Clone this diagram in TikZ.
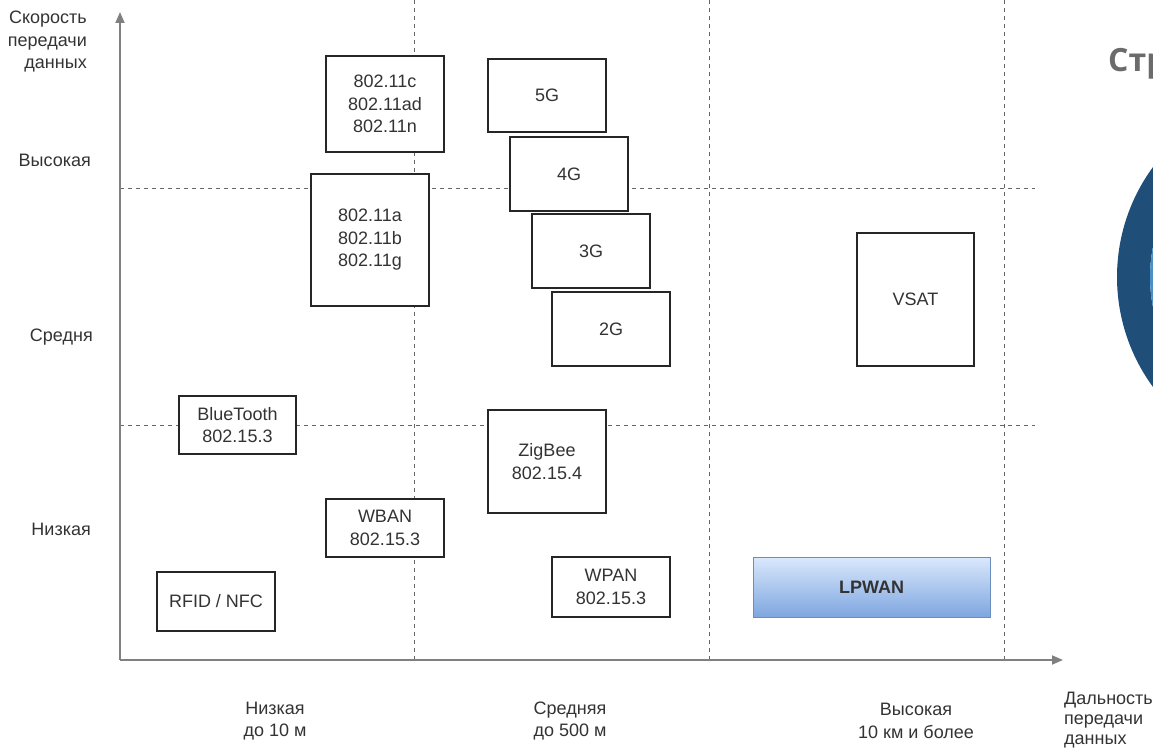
\documentclass[tikz,border=0pt]{standalone}
\usepackage{fontspec}
\setmainfont{Liberation Sans}
\newfontfamily\headfont{Open Sans}
\usetikzlibrary{arrows.meta}
\definecolor{txtgray}{HTML}{333333}
\definecolor{ringblue}{HTML}{1F4E79}
\definecolor{ringlight}{HTML}{4A90C8}
\definecolor{lpwantop}{HTML}{DAE8FC}
\definecolor{lpwanbot}{HTML}{7EA6E0}
\definecolor{lpwanline}{HTML}{6C8EBF}
\newcommand\techfont{\fontsize{18}{22.5}\selectfont}
\tikzset{
    tech/.style={draw=black!85, line width=1.2pt, fill=white, align=center,
        inner sep=0pt, text=txtgray, font=\techfont},
    gridline/.style={draw=black!60, line width=0.9pt, dash pattern=on 4pt off 4pt},
    axis/.style={draw=black!50, line width=1.8pt, -{Triangle[length=11pt,width=9pt]}},
    lbl/.style={text=txtgray, font=\techfont, inner sep=0pt}
}
\begin{document}
\begin{tikzpicture}[x=1pt, y=-1pt]
\useasboundingbox (0,0) rectangle (1153,749);
\clip (0,0) rectangle (1153,749);

% Slide fragment on the right
\draw[ringblue, line width=33pt] (1303,277) circle[radius=169.5pt];
\draw[ringlight, line width=3pt] (1303,277) circle[radius=151.5pt];
\node[anchor=base west, inner sep=0pt, text=black!58, font=\headfont\bfseries\fontsize{32}{36}\selectfont] (title) at (1108,72) {Стр};

% Grid
\draw[gridline] (414,0) -- (414,660);
\draw[gridline] (709,0) -- (709,660);
\draw[gridline] (1004,0) -- (1004,660);
\draw[gridline] (120,188) -- (1035,188);
\draw[gridline] (120,425) -- (1035,425);

% Technologies
\node[tech, minimum width=118pt, minimum height=96pt] (wifiN) at (385,104) {802.11c\\802.11ad\\802.11n};
\node[tech, minimum width=118pt, minimum height=73pt] (g5) at (547,95.5) {5G};
\node[tech, minimum width=118pt, minimum height=74pt] (g4) at (569,174) {4G};
\node[tech, minimum width=118pt, minimum height=132pt] (wifiA) at (370,240) {802.11a\\802.11b\\802.11g};
\node[tech, minimum width=118pt, minimum height=74pt] (g3) at (591,251) {3G};
\node[tech, minimum width=118pt, minimum height=74pt] (g2) at (611,329) {2G};
\node[tech, minimum width=117pt, minimum height=133pt] (vsat) at (915.5,299.5) {VSAT};
\node[tech, minimum width=117pt, minimum height=58pt] (bt) at (237.5,425) {BlueTooth\\802.15.3};
\node[tech, minimum width=118pt, minimum height=103pt] (zigbee) at (547,461.5) {ZigBee\\802.15.4};
\node[tech, minimum width=118pt, minimum height=58pt] (wban) at (385,528) {WBAN\\802.15.3};
\node[tech, minimum width=118pt, minimum height=59pt] (rfid) at (216,601.5) {RFID / NFC};
\node[tech, minimum width=118pt, minimum height=60pt] (wpan) at (611,587) {WPAN\\802.15.3};
\node[tech, draw=lpwanline, line width=1pt, top color=lpwantop, bottom color=lpwanbot,
    minimum width=237pt, minimum height=60pt, font=\techfont\bfseries] (lpwan) at (871.5,587) {LPWAN};

% Axes
\coordinate (origin) at (120,660);
\coordinate (ytip) at (120,12);
\coordinate (xtip) at (1063,660);
\draw[axis] (origin) -- (ytip);
\draw[axis] (origin) -- (xtip);

% Speed labels
\node[lbl, anchor=east, align=right] (speed) at (87,42) {Скорость\\передачи\\данных};
\node[lbl, anchor=east] (shigh) at (91,160) {Высокая};
\node[lbl, anchor=east] (smid) at (93,337) {Средня};
\node[lbl, anchor=east] (slow) at (91,529) {Низкая};

% Range labels
\node[lbl, align=center] (rlow) at (275,721) {Низкая\\до 10 м};
\node[lbl, align=center] (rmid) at (570,721) {Средняя\\до 500 м};
\node[lbl, align=center] (rhigh) at (916,721) {Высокая\\10 км и более};
\node[lbl, anchor=west, align=left, font=\fontsize{18}{20}\selectfont] (range) at (1064,720) {Дальность\\передачи\\данных};
\end{tikzpicture}
\end{document}
